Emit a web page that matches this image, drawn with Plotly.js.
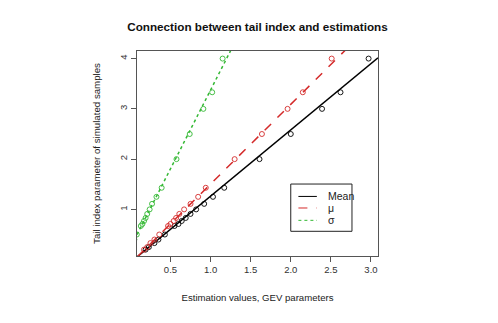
<!DOCTYPE html>
<html>
<head>
<meta charset="utf-8">
<script src="https://cdn.plot.ly/plotly-3.0.1.min.js"></script>
<style>html,body{margin:0;padding:0;background:#fff;}#chart{width:498px;height:323px;}</style>
</head>
<body>
<div id="chart"></div>
<script>
// Tail index parameter (y) and estimations (x)
const tailIndex = [4, 3.33, 3, 2.5, 2, 1.43, 1.25, 1.11, 1, 0.91, 0.83, 0.77, 0.71, 0.67, 0.5, 0.4, 0.33, 0.25, 0.2];
const meanEst   = [2.97, 2.62, 2.39, 2.0, 1.61, 1.17, 1.03, 0.92, 0.82, 0.75, 0.69, 0.64, 0.6, 0.55, 0.43, 0.35, 0.3, 0.23, 0.19];
const muEst     = [2.51, 2.15, 1.96, 1.64, 1.3, 0.94, 0.845, 0.75, 0.67, 0.61, 0.57, 0.54, 0.5, 0.47, 0.36, 0.3, 0.25, 0.21, 0.17];
const sigmaEst  = [1.15, 1.02, 0.91, 0.74, 0.575, 0.39, 0.325, 0.27, 0.24, 0.21, 0.19, 0.17, 0.15, 0.13, 0.08, 0.05, 0.03, 0.01, 0.0];
// Fitted lines (intercept, slope) of tail index on estimation
const seriesNames = ["Mean", "\u03bc", "\u03c3"];
const intercepts = [-0.055, -0.08, 0.24];
const slopes     = [1.318, 1.585, 3.135];
const xTicks = [0.5, 1.0, 1.5, 2.0, 2.5, 3.0];
const yTicks = [1, 2, 3, 4];

const xRange = [0.0825, 3.0875];
const yRange = [0.073, 4.151];

const colors = ["#000000", "#d42a2a", "#33b833"];
const dashes = ["solid", "dash", "dot"];
const ests = [meanEst, muEst, sigmaEst];

const traces = [];
ests.forEach((e, i) => {
  traces.push({
    x: e, y: tailIndex, mode: "markers", type: "scatter", showlegend: false,
    marker: {symbol: "circle-open", size: 5, color: colors[i], line: {width: 0.9, color: colors[i]}},
    cliponaxis: true, hoverinfo: "skip"
  });
  traces.push({
    x: xRange, y: xRange.map(x => intercepts[i] + slopes[i] * x),
    mode: "lines", type: "scatter", showlegend: false,
    line: {color: colors[i], width: 1.5, dash: dashes[i]}, hoverinfo: "skip"
  });
});

// manual R-style legend
const lgX0 = 0.638, lgX1 = 0.892, lgY0 = 0.1205, lgY1 = 0.351;
const rowY = [0.2906, 0.2342, 0.174];
const shapes = [{type: "rect", xref: "paper", yref: "paper", x0: lgX0, x1: lgX1, y0: lgY0, y1: lgY1,
  line: {color: "#222", width: 1}, fillcolor: "#fff", layer: "above"}];
const annotations = [];
seriesNames.forEach((n, i) => {
  shapes.push({type: "line", xref: "paper", yref: "paper", x0: 0.6697, x1: 0.7463, y0: rowY[i], y1: rowY[i],
    line: {color: colors[i], width: 1, dash: dashes[i]}, layer: "above"});
  annotations.push({xref: "paper", yref: "paper", x: 0.785, y: rowY[i], xanchor: "left", yanchor: "middle",
    text: n, showarrow: false, font: {family: "Liberation Sans, Arial, sans-serif", size: 10.5, color: "#222"}});
});

const layout = {
  width: 498, height: 323,
  margin: {l: 137.3, r: 120.3, t: 50.7, b: 66.5, pad: 0},
  paper_bgcolor: "#fff", plot_bgcolor: "#fff",
  font: {family: "Liberation Sans, Arial, sans-serif", size: 9.5, color: "#333"},
  title: {text: "<b>Connection between tail index and estimations</b>", x: 0.517, xanchor: "center",
    y: 1 - 27 / 323, yanchor: "middle", font: {size: 11.7, color: "#111"}},
  xaxis: {range: xRange, tickvals: xTicks, ticktext: xTicks.map(v => v.toFixed(1)),
    ticks: "outside", ticklen: 5, tickcolor: "#555", showgrid: false, zeroline: false,
    showline: true, linecolor: "#555", linewidth: 1, mirror: true,
    title: {text: "Estimation values, GEV parameters", font: {size: 9.6, color: "#222"}, standoff: 19}},
  yaxis: {range: yRange, tickvals: yTicks, ticktext: yTicks.map(String), tickangle: -90,
    ticks: "outside", ticklen: 5, tickcolor: "#555", showgrid: false, zeroline: false,
    showline: true, linecolor: "#555", linewidth: 1, mirror: true,
    title: {text: "Tail index parameter of simulated samples", font: {size: 9.7, color: "#222"}, standoff: 15}},
  shapes: shapes, annotations: annotations, showlegend: false
};
Plotly.newPlot("chart", traces, layout, {staticPlot: true, displayModeBar: false});
</script>
</body>
</html>
